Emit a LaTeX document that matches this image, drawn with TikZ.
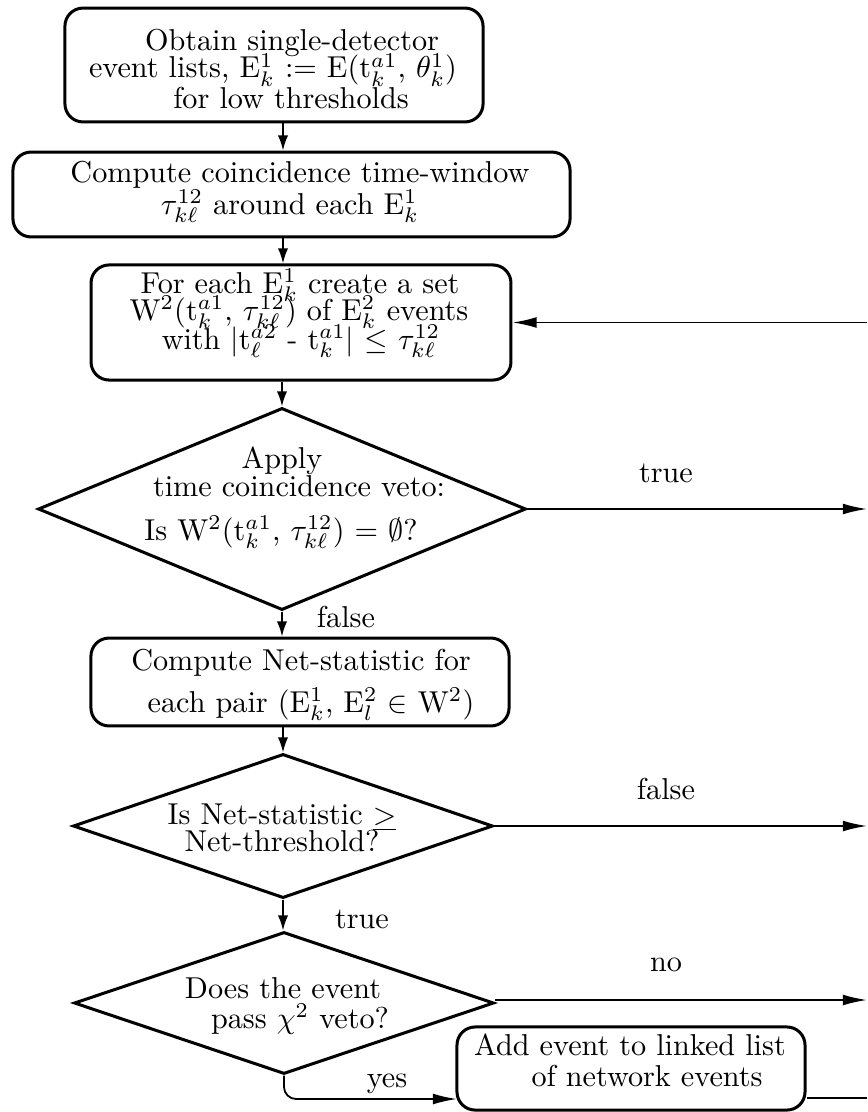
\documentclass[tikz,border=0pt]{standalone}
\usetikzlibrary{shapes.geometric,arrows.meta}
\begin{document}
\begin{tikzpicture}[x=0.331pt,y=-0.331pt,
  rbox/.style={draw, line width=1pt, rounded corners=6pt, inner sep=0pt},
  diam/.style={draw, diamond, line width=1pt, inner sep=0pt},
  txt/.style={anchor=base, inner sep=0pt},
  conn/.style={line width=0.6pt},
  varr/.style={conn, -{Latex[length=5pt,width=3.4pt]}},
  harr/.style={conn, -{Latex[length=8pt,width=3.6pt]}}]
\useasboundingbox (0,0) rectangle (867,1112);

% shapes
\node[rbox, minimum width=138.4pt, minimum height=37.7pt] (b1) at (274,65) {};
\node[rbox, minimum width=184.4pt, minimum height=28.1pt] (b2) at (291.5,194.5) {};
\node[rbox, minimum width=139.0pt, minimum height=38.1pt] (b3) at (301,322.5) {};
\node[diam, minimum width=161.5pt, minimum height=66.9pt] (d1) at (282,509) {};
\node[rbox, minimum width=138.4pt, minimum height=29.1pt] (b4) at (300,682) {};
\node[diam, minimum width=139.0pt, minimum height=47.7pt] (d2) at (283,826) {};
\node[diam, minimum width=139.0pt, minimum height=47.0pt] (d3) at (284,1003) {};
\node[rbox, minimum width=115.2pt, minimum height=27.5pt] (b5) at (631,1068.5) {};

% texts
\node[txt] (t1a) at (292,50) {Obtain single-detector};
\node[txt] (t1b) at (273,78) {event lists, E$^1_k$ $:=$ E(t$^{a1}_k$, $\theta^1_k$)};
\node[txt] (t1c) at (291,108) {for low thresholds};

\node[txt] (t2a) at (300,182) {Compute coincidence time-window};
\node[txt] (t2b) at (290,214) {$\tau^{12}_{k\ell}$ around each E$^1_k$};

\node[txt] (t3a) at (300,293) {For each E$^1_k$ create a set};
\node[txt] (t3b) at (299,320) {W$^2$(t$^{a1}_k$, $\tau^{12}_{k\ell}$) of E$^2_k$ events};
\node[txt] (t3c) at (301,349) {with $|$t$^{a2}_\ell$ - t$^{a1}_k|$ $\leq$ $\tau^{12}_{k\ell}$};

\node[txt] (t4a) at (282,468) {Apply};
\node[txt] (t4b) at (299,496) {time coincidence veto:};
\node[txt] (t4c) at (281,540) {Is W$^2$(t$^{a1}_k$, $\tau^{12}_{k\ell}$) $=$ $\emptyset$?};

\node[txt] (t5a) at (301,670) {Compute Net-statistic for};
\node[txt] (t5b) at (311,712) {each pair (E$^1_k$, E$^2_l$ $\in$ W$^2$)};

\node[txt] (t6a) at (282,824) {Is Net-statistic \underline{$>$}};
\node[txt] (t6b) at (282,851) {Net-threshold?};

\node[txt] (t7a) at (283,998) {Does the event};
\node[txt] (t7b) at (300,1028) {pass $\chi^2$ veto?};

\node[txt] (t8a) at (630,1055) {Add event to linked list};
\node[txt] (t8b) at (647,1086) {of network events};

% labels
\node[txt] (l1) at (666,482) {true};
\node[txt] (l2) at (346,627) {false};
\node[txt] (l3) at (666,799) {false};
\node[txt] (l4) at (362,928) {true};
\node[txt] (l5) at (666,971) {no};
\node[txt] (l6) at (387,1087) {yes};

% free ends
\coordinate (e0) at (867,322.5);
\coordinate (e1) at (867,509);
\coordinate (e2) at (867,826);
\coordinate (e3) at (867,1000);
\coordinate (e5) at (867,1098);
\coordinate (yesend) at (457,1099);

% connectors
\draw[varr] (b1.south -| d2.center) -- (b2.north -| d2.center);
\draw[varr] (b2.south -| d2.center) -- (b3.north -| d2.center);
\draw[varr] (b3.south -| d1.north) -- (d1.north);
\draw[varr] (d1.south) -- (b4.north -| d1.south);
\draw[varr] (b4.south -| d2.north) -- (d2.north);
\draw[varr] (d2.south) -- (d3.north -| d2.south);
\draw[harr] (e0) -- (b3.east);
\draw[harr] (d1.east) -- (e1);
\draw[harr] (d2.east) -- (e2);
\draw[harr] (d3.east |- e3) -- (e3);
\draw[harr, rounded corners=4pt] (d3.south) |- (yesend);
\draw[conn] (b5.east |- e5) -- (e5);
\end{tikzpicture}
\end{document}
